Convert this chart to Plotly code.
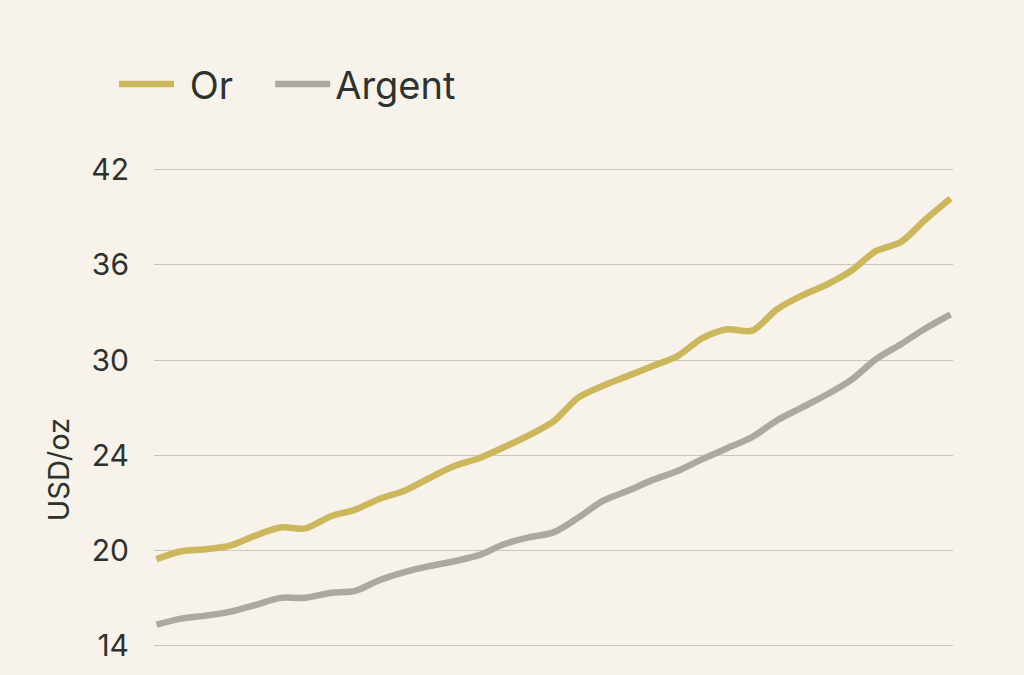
import plotly.graph_objects as go

periods = list(range(33))
or_values = [17.44, 17.94, 18.06, 18.31, 18.94, 19.44, 19.38, 20.13, 20.56, 21.25,
             21.75, 22.56, 23.31, 23.81, 24.5, 25.25, 26.13, 27.63, 28.38, 29.0,
             29.63, 30.25, 31.38, 31.94, 31.85, 33.19, 34.06, 34.75, 35.63, 36.88,
             37.44, 38.88, 40.19]
argent_values = [13.31, 13.69, 13.88, 14.13, 14.56, 15.0, 15.0, 15.31, 15.44, 16.13,
                 16.63, 17.0, 17.31, 17.69, 18.38, 18.81, 19.13, 20.06, 21.13, 21.75,
                 22.44, 23.0, 23.75, 24.44, 25.13, 26.19, 27.0, 27.81, 28.75, 30.06,
                 31.0, 32.0, 32.88]
tick_vals = [12, 18, 24, 30, 36, 42]
tick_text = ["14", "20", "24", "30", "36", "42"]

BG = "#F8F3EA"
TXT = "#2C3230"

fig = go.Figure()
fig.add_trace(go.Scatter(x=periods, y=or_values, name="\u00a0Or\u00a0\u00a0\u00a0", mode="lines",
                         line=dict(color="#CDB75C", width=6.5, shape="spline", smoothing=0.8)))
fig.add_trace(go.Scatter(x=periods, y=argent_values, name="Argent", mode="lines",
                         line=dict(color="#ABA9A1", width=6.5, shape="spline", smoothing=0.8)))

fig.update_layout(
    width=1024, height=675,
    paper_bgcolor=BG, plot_bgcolor=BG,
    margin=dict(l=154, r=71, t=146, b=23),
    font=dict(family="Inter", color=TXT),
    showlegend=True,
    legend=dict(orientation="h", x=-0.05, xanchor="left", y=1.123, yanchor="middle",
                font=dict(size=38, color=TXT), itemwidth=55,
                bgcolor="rgba(0,0,0,0)"),
    xaxis=dict(range=[-0.1, 32.1], showgrid=False, zeroline=False, showticklabels=False,
               showline=False, ticks=""),
    yaxis=dict(range=[11.9, 43.5], tickvals=tick_vals, ticktext=tick_text,
               showgrid=True, gridcolor="#CCC6BA", gridwidth=1.2, zeroline=False,
               showline=False, ticks="", tickfont=dict(size=30, color=TXT),
               ticklabelstandoff=24),
    annotations=[dict(text="USD/oz", xref="paper", yref="paper", x=-0.12, y=0.353,
                      textangle=-90, showarrow=False, font=dict(size=29, color=TXT),
                      xanchor="center", yanchor="middle")],
)

fig.write_html("out.html", config={"displayModeBar": False},
               post_script="document.body.style.margin='0';document.body.style.background='" + BG + "';")
